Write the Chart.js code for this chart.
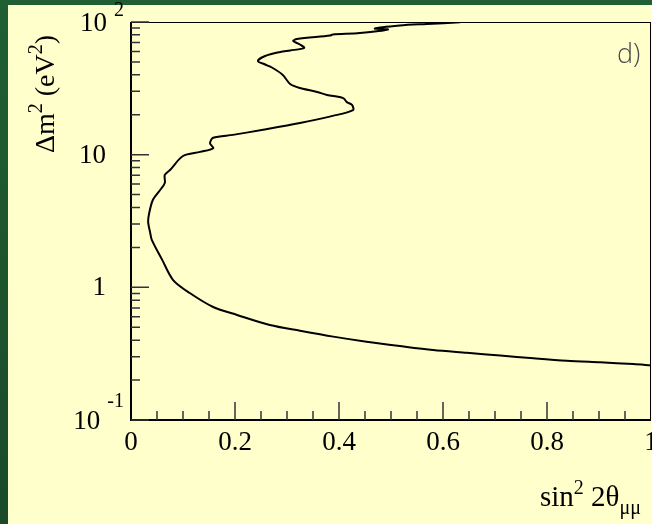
<!DOCTYPE html>
<html>
<head>
<meta charset="utf-8">
<script src="https://cdn.jsdelivr.net/npm/chart.js@4.4.1/dist/chart.umd.min.js"></script>
<style>
  html, body { margin: 0; padding: 0; background: #1c5630; }
  canvas { display: block; }
</style>
</head>
<body>
<canvas id="c" width="652" height="524"></canvas>
<script>
// contour, traced from the top edge (dm2 = 100) down to sin^2 = 1
var sin2theta = [0.633, 0.569, 0.517, 0.469, 0.494, 0.440, 0.388, 0.383, 0.319, 0.312,
  0.325, 0.333, 0.306, 0.287, 0.258, 0.244, 0.258, 0.271, 0.292, 0.306,
  0.325, 0.358, 0.377, 0.408, 0.415, 0.425, 0.427, 0.388, 0.325, 0.254,
  0.196, 0.158, 0.152, 0.158, 0.133, 0.100, 0.075, 0.065, 0.065, 0.056,
  0.042, 0.035, 0.033, 0.037, 0.040, 0.060, 0.081, 0.113, 0.158, 0.204,
  0.267, 0.325, 0.389, 0.453, 0.517, 0.581, 0.646, 0.710, 0.774, 0.838,
  0.902, 0.966, 1.0];
var dm2 = [99.5, 96.6, 94.1, 89.3, 87.8, 82.6, 80.5, 79.1, 74.4, 71.9,
  67.7, 63.7, 61.0, 59.4, 55.4, 50.8, 47.8, 45.4, 39.9, 34.1,
  31.8, 29.7, 28.2, 26.7, 24.9, 23.7, 21.7, 19.6, 17.3, 15.4,
  14.1, 13.4, 12.2, 11.2, 10.5, 9.77, 7.66, 7.03, 6.12, 5.42,
  4.55, 3.63, 3.11, 2.57, 2.28, 1.61, 1.135, 0.906, 0.711, 0.619,
  0.520, 0.471, 0.425, 0.389, 0.361, 0.337, 0.321, 0.306, 0.292, 0.280,
  0.272, 0.264, 0.258];

var xTicks = [0, 0.2, 0.4, 0.6, 0.8, 1];
var xTickLabels = ['0', '0.2', '0.4', '0.6', '0.8', '1'];
var yTicks = [0.1, 1, 10, 100];
var yTickBase = ['10', '1', '10', '10'];
var yTickExp = ['-1', '', '', '2'];

var points = [];
for (var i = 0; i < sin2theta.length; i++) {
  points.push({ x: sin2theta[i], y: dm2[i] });
}

var serif = '"Liberation Serif", "Times New Roman", serif';

var axesPlugin = {
  id: 'axesPlugin',
  beforeDraw: function(chart) {
    var ctx = chart.ctx;
    var g = ctx.createLinearGradient(0, 0, 0, chart.height);
    g.addColorStop(0, '#1f5f33');
    g.addColorStop(1, '#1a4a29');
    ctx.save();
    ctx.fillStyle = g;
    ctx.fillRect(0, 0, chart.width, chart.height);
    ctx.fillStyle = '#ffffcc';
    ctx.fillRect(8, 5, chart.width - 8, chart.height - 5);
    ctx.restore();
  },
  afterDraw: function(chart) {
    var ctx = chart.ctx;
    var a = chart.chartArea;
    var xs = chart.scales.x, ys = chart.scales.y;
    ctx.save();

    // frame
    ctx.strokeStyle = '#000';
    ctx.lineWidth = 1;
    ctx.beginPath();
    ctx.moveTo(a.left, a.top + 0.5); ctx.lineTo(a.right, a.top + 0.5);
    ctx.moveTo(a.right - 0.5, a.top); ctx.lineTo(a.right - 0.5, a.bottom);
    ctx.stroke();
    ctx.lineWidth = 2;
    ctx.beginPath();
    ctx.moveTo(a.left, a.top); ctx.lineTo(a.left, a.bottom);
    ctx.lineTo(a.right, a.bottom);
    ctx.stroke();

    // x ticks, every 0.05, major every 0.2
    ctx.strokeStyle = '#333';
    ctx.lineWidth = 1.5;
    ctx.beginPath();
    for (var k = 1; k < 20; k++) {
      var v = k * 0.05;
      var px = xs.getPixelForValue(v);
      var len = (k % 4 === 0) ? 18 : 9;
      ctx.moveTo(px, a.bottom); ctx.lineTo(px, a.bottom - len);
    }
    // y ticks, major per decade, minor 2..9
    [0.1, 1, 10].forEach(function(d) {
      for (var m = 1; m <= 10; m++) {
        var v = m * d;
        if (v > 100) continue;
        var py = ys.getPixelForValue(v);
        var len = (m === 1 || m === 10) ? 18 : 9;
        ctx.moveTo(a.left, py); ctx.lineTo(a.left + len, py);
      }
    });
    ctx.stroke();

    // x tick labels
    ctx.fillStyle = '#000';
    ctx.font = '27px ' + serif;
    ctx.textAlign = 'center';
    ctx.textBaseline = 'middle';
    xTicks.forEach(function(v, i) {
      ctx.fillText(xTickLabels[i], xs.getPixelForValue(v), a.bottom + 23);
    });

    // y tick labels, with exponent
    yTicks.forEach(function(v, i) {
      var py = ys.getPixelForValue(v);
      ctx.textBaseline = 'middle';
      ctx.textAlign = 'right';
      if (yTickExp[i]) {
        ctx.font = '20px ' + serif;
        var ew = ctx.measureText(yTickExp[i]).width;
        ctx.fillText(yTickExp[i], 124, Math.max(py - 18, 11));
        ctx.font = '27px ' + serif;
        ctx.fillText(yTickBase[i], 124 - ew - 7, py + 2);
      } else {
        ctx.font = '27px ' + serif;
        ctx.fillText(yTickBase[i], 106, py + 1);
      }
    });

    // x title: sin^2 2theta_mumu
    ctx.textAlign = 'left';
    ctx.textBaseline = 'alphabetic';
    var x0 = 540, base = 506;
    ctx.font = '29px ' + serif;
    ctx.fillText('sin', x0, base); x0 += ctx.measureText('sin').width;
    ctx.font = '20px ' + serif;
    ctx.fillText('2', x0, base - 12); x0 += ctx.measureText('2').width;
    ctx.font = '29px ' + serif;
    ctx.fillText(' 2\u03b8', x0, base); x0 += ctx.measureText(' 2\u03b8').width;
    ctx.font = '20px ' + serif;
    ctx.fillText('\u03bc\u03bc', x0, base + 8);

    // y title: Delta m^2 (eV^2), rotated
    ctx.translate(54, 153);
    ctx.rotate(-Math.PI / 2);
    var t = 0;
    ctx.font = '28px ' + serif;
    ctx.fillText('\u0394m', t, 0); t += ctx.measureText('\u0394m').width;
    ctx.font = '20px ' + serif;
    ctx.fillText('2', t, -12); t += ctx.measureText('2').width;
    ctx.font = '28px ' + serif;
    ctx.fillText(' (eV', t, 0); t += ctx.measureText(' (eV').width;
    ctx.font = '20px ' + serif;
    ctx.fillText('2', t, -12); t += ctx.measureText('2').width;
    ctx.font = '28px ' + serif;
    ctx.fillText(')', t, 0);
    ctx.restore();

    // panel tag
    ctx.save();
    ctx.fillStyle = '#4a4a4a';
    ctx.font = '300 27px "Open Sans", "DejaVu Sans", sans-serif';
    ctx.textAlign = 'left';
    ctx.textBaseline = 'alphabetic';
    ctx.fillText('d)', 617, 63);
    ctx.restore();
  }
};

new Chart(document.getElementById('c'), {
  type: 'scatter',
  data: {
    datasets: [{
      data: points,
      showLine: true,
      borderColor: '#000',
      borderWidth: 2,
      pointRadius: 0,
      tension: 0.3,
      fill: false
    }]
  },
  options: {
    responsive: false,
    animation: false,
    devicePixelRatio: 1,
    layout: { padding: { left: 131, top: 22, right: 1, bottom: 104 } },
    plugins: { legend: { display: false }, tooltip: { enabled: false } },
    scales: {
      x: { type: 'linear', min: 0, max: 1, display: false },
      y: { type: 'logarithmic', min: 0.1, max: 100, display: false }
    }
  },
  plugins: [axesPlugin]
});
</script>
</body>
</html>
